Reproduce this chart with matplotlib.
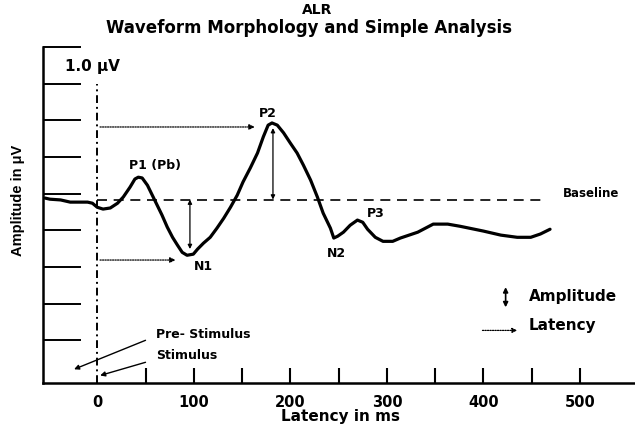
import matplotlib
matplotlib.use("Agg")
import matplotlib.pyplot as plt

# ---- data ----
latency_ms = [-54, -49, -38, -28, -18, -10, -5, 0, 6, 13.5, 21, 27, 34, 39, 42.5,
              46.5, 52, 57, 62, 67, 72.5, 78, 83, 88, 93, 99.5, 104, 110, 117,
              124, 131, 138, 145, 151, 158.5, 166, 172, 177, 181, 186.5, 193,
              200, 207, 213.5, 221, 228, 234, 241.5, 245, 249, 255, 262, 269.5,
              275, 280, 288, 296, 306, 314, 332, 348, 363, 376, 400, 418, 435,
              449, 459, 469]
amplitude = [4.88, 4.85, 4.83, 4.77, 4.77, 4.77, 4.74, 4.63, 4.58, 4.61, 4.74,
             4.91, 5.18, 5.40, 5.45, 5.43, 5.23, 4.96, 4.69, 4.42, 4.09, 3.81,
             3.60, 3.40, 3.32, 3.35, 3.49, 3.65, 3.81, 4.06, 4.33, 4.63, 4.96,
             5.32, 5.70, 6.11, 6.55, 6.87, 6.93, 6.87, 6.66, 6.38, 6.11, 5.78,
             5.37, 4.91, 4.47, 4.06, 3.79, 3.84, 3.95, 4.14, 4.28, 4.22, 4.03,
             3.81, 3.70, 3.70, 3.79, 3.95, 4.17, 4.17, 4.11, 3.98, 3.87, 3.81,
             3.81, 3.90, 4.03]
baseline = 4.84
x_ticks = [50, 100, 150, 200, 250, 300, 350, 400, 450, 500]
x_tick_labels = ["", "100", "", "200", "", "300", "", "400", "", "500"]
y_ticks = [1, 2, 3, 4, 5, 6, 7, 8, 9]
peak_labels = ["P1 (Pb)", "N1", "P2", "N2", "P3"]
peak_label_x = [60, 110, 177, 248, 288]
peak_label_y = [5.78, 3.0, 7.2, 3.38, 4.47]

BOLD = dict(fontweight="bold", family=["DejaVu Sans"])

fig = plt.figure(figsize=(6.35, 4.32), dpi=100)
ax = fig.add_axes([0.068, 0.113, 0.932, 0.778])
ax.set_xlim(-56, 557)
ax.set_ylim(-0.17, 9.0)

for s in ["top", "right"]:
    ax.spines[s].set_visible(False)
for s in ["left", "bottom"]:
    ax.spines[s].set_linewidth(1.8)

ax.set_xticks(x_ticks)
ax.set_xticklabels(x_tick_labels)
ax.tick_params(axis="x", direction="in", length=10.5, width=1.5, pad=8.5,
               labelsize=10.5)
for t in ax.get_xticklabels():
    t.set_fontweight("bold")
ax.set_yticks(y_ticks)
ax.set_yticklabels([])
ax.tick_params(axis="y", direction="in", length=27, width=1.4)
# "0" label under the stimulus line
ax.annotate("0", xy=(0, 0), xycoords=("data", "axes fraction"),
            xytext=(0, -8.5), textcoords="offset points", ha="center", va="top",
            fontsize=10.5, **BOLD)

# waveform
ax.plot(latency_ms, amplitude, color="black", lw=2.3, solid_capstyle="round",
        solid_joinstyle="round")
# baseline
ax.plot([0, 466], [baseline, baseline], color="black", lw=1.2,
        linestyle=(0, (6, 4)))
# stimulus line
ax.plot([0, 0], [-0.17, 8.0], color="black", lw=1.4,
        linestyle=(0, (4, 2, 1, 2)))

# latency arrows
ax.annotate("", xy=(166, 6.82), xytext=(0, 6.82),
            arrowprops=dict(arrowstyle="-|>", color="black", lw=0.9,
                            linestyle=(0, (1, 1)), mutation_scale=8))
ax.annotate("", xy=(84, 3.19), xytext=(0, 3.19),
            arrowprops=dict(arrowstyle="-|>", color="black", lw=0.9,
                            linestyle=(0, (1, 1)), mutation_scale=8))
# amplitude arrows
ax.annotate("", xy=(96, 3.49), xytext=(96, baseline),
            arrowprops=dict(arrowstyle="<|-|>", color="black", lw=0.9,
                            mutation_scale=6, shrinkA=0, shrinkB=0))
ax.annotate("", xy=(182, 6.79), xytext=(182, baseline),
            arrowprops=dict(arrowstyle="<|-|>", color="black", lw=0.9,
                            mutation_scale=6, shrinkA=0, shrinkB=0))

# peak labels
for lab, px, py in zip(peak_labels, peak_label_x, peak_label_y):
    ax.text(px, py, lab, ha="center", va="center", fontsize=9, **BOLD)

ax.text(-33, 8.46, "1.0 \u03bcV", ha="left", va="center", fontsize=11, **BOLD)
ax.text(482, 5.0, "Baseline", ha="left", va="center", fontsize=8.5, **BOLD)

# legend-like keys
ax.annotate("", xy=(423, 1.9), xytext=(423, 2.45),
            arrowprops=dict(arrowstyle="<|-|>", color="black", lw=1.2,
                            mutation_scale=7, shrinkA=0, shrinkB=0))
ax.text(447, 2.2, "Amplitude", ha="left", va="center", fontsize=11, **BOLD)
ax.annotate("", xy=(435, 1.27), xytext=(399, 1.27),
            arrowprops=dict(arrowstyle="-|>", color="black", lw=0.9,
                            linestyle=(0, (1, 1)),
                            mutation_scale=7, shrinkA=0, shrinkB=0))
ax.text(447, 1.41, "Latency", ha="left", va="center", fontsize=11, **BOLD)

# stimulus annotations
ax.annotate("", xy=(-24, 0.21), xytext=(50, 1.0),
            arrowprops=dict(arrowstyle="-|>", color="black", lw=1.0,
                            mutation_scale=7, shrinkA=0, shrinkB=0))
ax.annotate("", xy=(3, 0.04), xytext=(50, 0.40),
            arrowprops=dict(arrowstyle="-|>", color="black", lw=1.0,
                            mutation_scale=7, shrinkA=0, shrinkB=0))
ax.text(61, 1.16, "Pre- Stimulus", ha="left", va="center", fontsize=9, **BOLD)
ax.text(61, 0.58, "Stimulus", ha="left", va="center", fontsize=9, **BOLD)

# axis labels and title
fig.text(0.537, 0.035, "Latency in ms", ha="center", va="center",
         fontsize=11, **BOLD)
fig.text(0.028, 0.537, "Amplitude in \u03bcV", ha="center", va="center",
         rotation=90, fontsize=10.5, fontweight="bold",
         family=["Liberation Sans Narrow", "Liberation Sans"])
fig.text(0.50, 0.977, "ALR", ha="center", va="center", fontsize=10, **BOLD)
fig.text(0.487, 0.935, "Waveform Morphology and Simple Analysis",
         ha="center", va="center", fontsize=12, **BOLD)

fig.savefig("out.png", dpi=100)
